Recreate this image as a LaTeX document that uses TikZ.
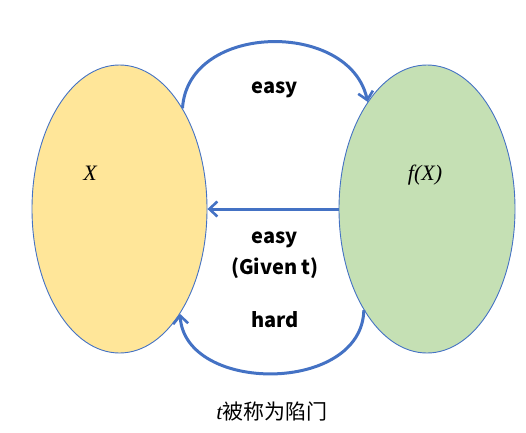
\documentclass[tikz,border=0pt]{standalone}
\usepackage{fontspec}
\setmainfont{Liberation Serif}
\newfontfamily\cjk{Noto Sans CJK SC}
\usetikzlibrary{shapes.geometric,arrows.meta}
\definecolor{ablue}{HTML}{4472C4}
\definecolor{lyellow}{HTML}{FFE699}
\definecolor{lgreen}{HTML}{C5E0B4}
\tikzset{
  setnode/.style={ellipse, draw=ablue, line width=0.9pt, inner sep=0pt, minimum width=175pt, minimum height=288pt},
  flow/.style={draw=ablue, line width=3pt, -{Straight Barb[length=8pt,width=15pt,line width=2.6pt]}},
  lbl/.style={font=\cjk\bfseries\fontsize{20}{24}\selectfont, inner sep=0pt},
  math/.style={font=\itshape\fontsize{22}{26}\selectfont, inner sep=0pt}
}
\begin{document}
\begin{tikzpicture}[x=1pt,y=-1pt]
\useasboundingbox (0,0) rectangle (526,432);
\node[setnode, fill=lyellow] (X) at (119.5,209) {};
\node[setnode, fill=lgreen, minimum width=176pt] (FX) at (427,209) {};
\node[math] (xl) at (90,173) {X};
\node[math] (fxl) at (425,175) {f(X)};
\draw[flow] (X.58.7) .. controls (188,22) and (350,20) .. (FX.119.5);
\draw[flow] (FX.west) -- (X.east);
\draw[flow] (FX.238.5) .. controls (362,394) and (185,394) .. (X.300.4);
\node[lbl] (e1) at (275,90) {easy};
\node[lbl] (e2) at (275,240) {easy};
\node[lbl] (g) at (275,268) {(Given t)};
\node[lbl] (h) at (275,320) {hard};
\node[inner sep=0pt] (cap) at (272,412) {{\fontsize{22}{26}\selectfont\itshape t}{\cjk\fontsize{21}{26}\selectfont 被称为陷门}};
\end{tikzpicture}
\end{document}
